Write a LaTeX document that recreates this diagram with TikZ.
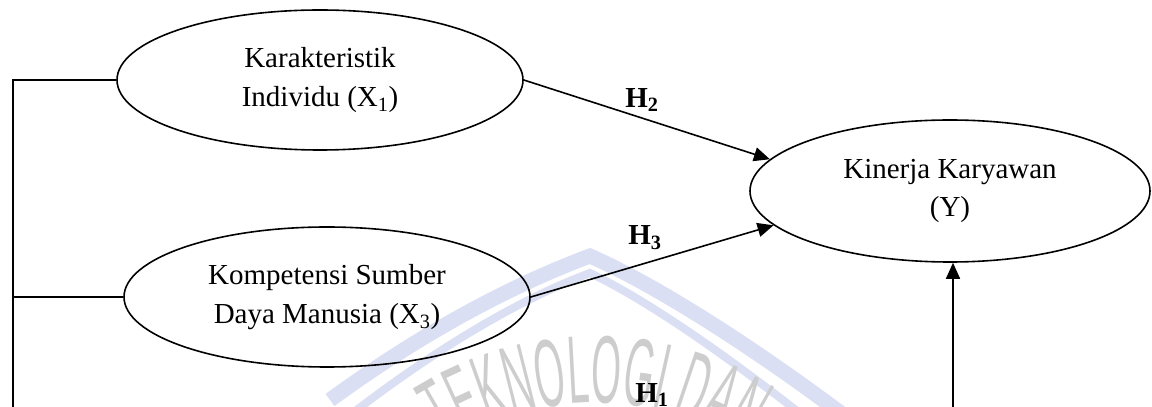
\documentclass[tikz,border=0pt]{standalone}
\usepackage{fontspec}
\setmainfont{Liberation Serif}
\newfontfamily\wmfont[FakeStretch=0.4]{Liberation Sans}
\usetikzlibrary{shapes.geometric,arrows.meta,decorations.text}
\definecolor{wmblue}{RGB}{219,223,243}
\definecolor{wmgray}{RGB}{205,205,205}
\tikzset{
  var/.style={draw, line width=1.6pt, ellipse, minimum width=406pt, minimum height=140pt,
    inner sep=0pt, align=center, font=\fontsize{29}{38.5}\selectfont},
  conn/.style={line width=1.6pt},
  arr/.style={conn, -{Triangle[length=16pt,width=14pt]}},
  hlab/.style={font=\fontsize{29}{35}\selectfont\bfseries, inner sep=0pt},
  band/.style={draw=wmblue, line join=miter},
}
\begin{document}
\begin{tikzpicture}[x=1pt,y=1pt]
\clip (0,0) rectangle (1152,407);
% watermark
\draw[band, line width=15pt] (330,7) .. controls (430,80) and (520,125) .. (590,151)
  .. controls (660,120) and (760,55) .. (850,-13);
\draw[band, line width=8pt] (345,-12) .. controls (440,62) and (525,110) .. (590,134)
  .. controls (655,103) and (745,38) .. (830,-30);
\path[decorate, decoration={text along path, text align=center,
  text={|\wmfont\fontsize{96}{100}\selectfont\color{wmgray}|TEKNOLOGI DAN}}]
  ([shift={(595,-276)}]150:280) arc[start angle=150, end angle=30, radius=280];
% nodes
\node[var] (x1) at (320,327) {Karakteristik\\Individu (X\textsubscript{1})};
\node[var, minimum width=400pt, minimum height=142pt] (y) at (950,216) {Kinerja Karyawan\\(Y)};
\node[var] (x3) at (327,110) {Kompetensi Sumber\\Daya Manusia (X\textsubscript{3})};
\coordinate (bl) at (13,-10);
\coordinate (br) at (953,-10);
% connectors
\draw[conn] (x1.west) -| (bl);
\draw[conn] (x3.west) -- (x3.west -| bl);
\draw[arr] (x1.east) -- (y.170);
\draw[arr] (x3.east) -- (y.191);
\draw[arr] (br) -- (br |- y.south);
% labels
\node[hlab] (h2) at (642,307) {H\textsubscript{2}};
\node[hlab] (h3) at (645,169) {H\textsubscript{3}};
\node[hlab] (h1) at (652,12) {H\textsubscript{1}};
\end{tikzpicture}
\end{document}
